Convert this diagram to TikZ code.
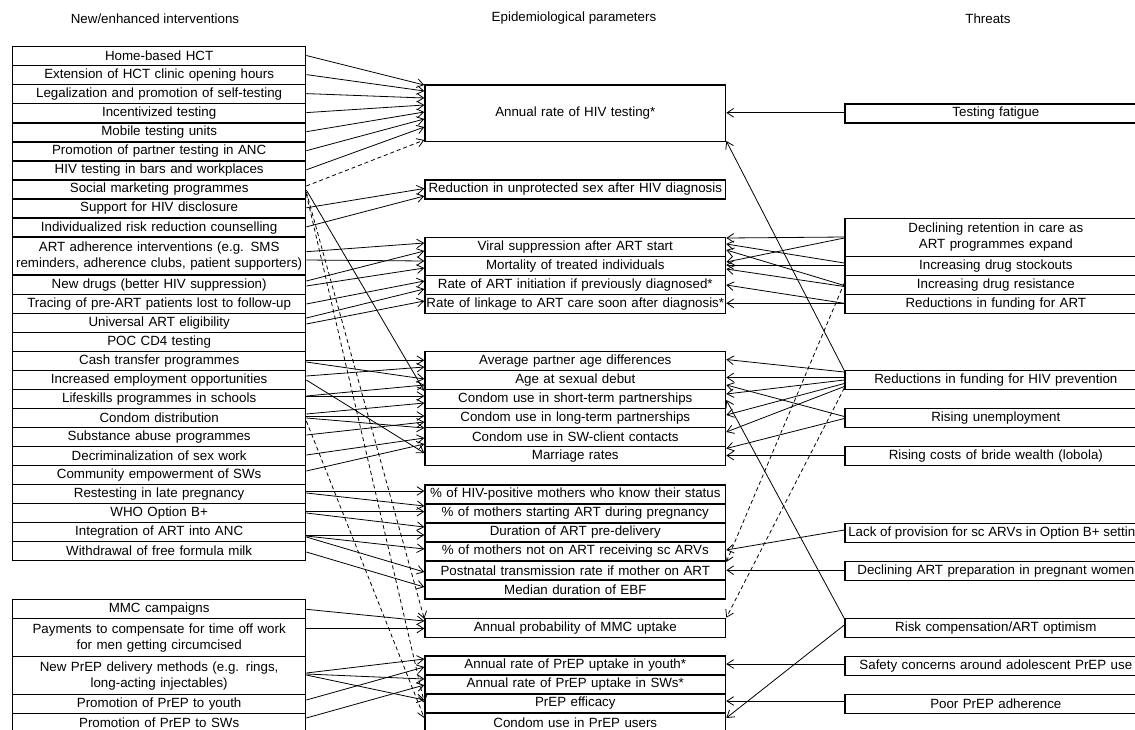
\documentclass[tikz,border=0pt]{standalone}
\usepackage{fontspec}
\setmainfont{Liberation Sans}
\usetikzlibrary{arrows.meta}
\newcommand\LtoM[5][]{\draw[con,#1] (#2.east |- 0,#3) -- (#4.west |- 0,#5);}
\newcommand\RtoM[5][]{\draw[con,#1] (#2.west |- 0,#3) -- (#4.east |- 0,#5);}
\begin{document}
\begin{tikzpicture}[x=0.75pt,y=-0.75pt,
  every node/.style={font={\fontsize{10}{12}\selectfont}, inner sep=0pt, align=center},
  bx/.style={draw, line width=1pt, anchor=north west, minimum height=14.28pt},
  lb/.style={bx, minimum width=219.75pt, text width=219.75pt},
  mb/.style={bx, minimum width=225.5pt, text width=225.5pt},
  rb/.style={bx, minimum width=226.3pt, text width=226.3pt},
  dbl/.style={minimum height=28.5pt},
  con/.style={line width=0.6pt, -{Straight Barb[length=5pt,width=6.5pt]}},
  dsh/.style={dash pattern=on 3pt off 2.2pt}]
\useasboundingbox (0,0) rectangle (1135,729);
\fill[white] (0,0) rectangle (1135,729);
\clip (0,0) rectangle (1135,729);

% headers
\node (h1) at (155,18.5) {New/enhanced interventions};
\node (h2) at (574,18.5) {Epidemiological parameters};
\node (h3) at (988,18.5) {Threats};

% left column
\node[lb] (home) at (12,46.0) {Home-based HCT};
\node[lb] (ext) at (12,65.0) {Extension of HCT clinic opening hours};
\node[lb] (leg) at (12,84.1) {Legalization and promotion of self-testing};
\node[lb] (inc) at (12,103.1) {Incentivized testing};
\node[lb] (mob) at (12,122.2) {Mobile testing units};
\node[lb] (prom) at (12,141.2) {Promotion of partner testing in ANC};
\node[lb] (bars) at (12,160.2) {HIV testing in bars and workplaces};
\node[lb] (soc) at (12,179.3) {Social marketing programmes};
\node[lb] (sup) at (12,198.3) {Support for HIV disclosure};
\node[lb] (ind) at (12,217.4) {Individualized risk reduction counselling};
\node[lb,dbl] (adh) at (12,236.4) {ART adherence interventions (e.g. SMS\\reminders, adherence clubs, patient supporters)};
\node[lb] (newdr) at (12,274.5) {New drugs (better HIV suppression)};
\node[lb] (trac) at (12,293.5) {Tracing of pre-ART patients lost to follow-up};
\node[lb] (univ) at (12,312.6) {Universal ART eligibility};
\node[lb] (poc) at (12,331.6) {POC CD4 testing};
\node[lb] (cash) at (12,350.6) {Cash transfer programmes};
\node[lb] (incr) at (12,369.7) {Increased employment opportunities};
\node[lb] (life) at (12,388.7) {Lifeskills programmes in schools};
\node[lb] (cond) at (12,407.8) {Condom distribution};
\node[lb] (subst) at (12,426.8) {Substance abuse programmes};
\node[lb] (decr) at (12,445.8) {Decriminalization of sex work};
\node[lb] (comm) at (12,464.9) {Community empowerment of SWs};
\node[lb] (rest) at (12,483.9) {Restesting in late pregnancy};
\node[lb] (who) at (12,503.0) {WHO Option B+};
\node[lb] (integ) at (12,522.0) {Integration of ART into ANC};
\node[lb] (withd) at (12,541.0) {Withdrawal of free formula milk};
\node[lb] (mmc) at (12,599) {MMC campaigns};
\node[lb,dbl] (pay) at (12,618) {Payments to compensate for time off work\\for men getting circumcised};
\node[lb,dbl] (nprep) at (12,656) {New PrEP delivery methods (e.g. rings,\\long-acting injectables)};
\node[lb] (promy) at (12,694) {Promotion of PrEP to youth};
\node[lb] (promsw) at (12,713) {Promotion of PrEP to SWs};

% middle column
\node[mb, minimum height=42.5pt] (hivt) at (424.3,84.3) {Annual rate of HIV testing*};
\node[mb] (unprot) at (424.3,179.3) {Reduction in unprotected sex after HIV diagnosis};
\node[mb] (viral) at (424.3,236.7) {Viral suppression after ART start};
\node[mb] (mort) at (424.3,255.7) {Mortality of treated individuals};
\node[mb] (init) at (424.3,274.7) {Rate of ART initiation if previously diagnosed*};
\node[mb] (link) at (424.3,293.7) {Rate of linkage to ART care soon after diagnosis*};
\node[mb] (avg) at (424.3,351) {Average partner age differences};
\node[mb] (age) at (424.3,370) {Age at sexual debut};
\node[mb] (cshort) at (424.3,389) {Condom use in short-term partnerships};
\node[mb] (clong) at (424.3,408) {Condom use in long-term partnerships};
\node[mb] (csw) at (424.3,427) {Condom use in SW-client contacts};
\node[mb] (marr) at (424.3,446) {Marriage rates};
\node[mb] (know) at (424.3,484.3) {\% of HIV-positive mothers who know their status};
\node[mb] (mstart) at (424.3,503.3) {\% of mothers starting ART during pregnancy};
\node[mb] (dur) at (424.3,522.3) {Duration of ART pre-delivery};
\node[mb] (notart) at (424.3,541.3) {\% of mothers not on ART receiving sc ARVs};
\node[mb] (post) at (424.3,560.3) {Postnatal transmission rate if mother on ART};
\node[mb] (ebf) at (424.3,579.3) {Median duration of EBF};
\node[mb] (mmcu) at (424.3,617.7) {Annual probability of MMC uptake};
\node[mb] (pyouth) at (424.3,655.3) {Annual rate of PrEP uptake in youth*};
\node[mb] (psw) at (424.3,674.3) {Annual rate of PrEP uptake in SWs*};
\node[mb] (peff) at (424.3,693.3) {PrEP efficacy};
\node[mb] (pcond) at (424.3,712.3) {Condom use in PrEP users};

% right column
\node[rb] (fatigue) at (844.3,103.3) {Testing fatigue};
\node[rb,dbl] (retent) at (844.3,217.7) {Declining retention in care as\\ART programmes expand};
\node[rb] (stock) at (844.3,255.7) {Increasing drug stockouts};
\node[rb] (resist) at (844.3,274.7) {Increasing drug resistance};
\node[rb] (fundart) at (844.3,293.7) {Reductions in funding for ART};
\node[rb] (fundprev) at (844.3,370) {Reductions in funding for HIV prevention};
\node[rb] (unemp) at (844.3,408) {Rising unemployment};
\node[rb] (bride) at (844.3,446) {Rising costs of bride wealth (lobola)};
\node[bx, inner xsep=2.5pt, minimum width=226.3pt] (lack) at (844.3,522.7) {Lack of provision for sc ARVs in Option B+ settings};
\node[rb] (prep) at (844.3,560.7) {Declining ART preparation in pregnant women};
\node[rb] (riskc) at (844.3,617.7) {Risk compensation/ART optimism};
\node[rb] (safety) at (844.3,655.7) {Safety concerns around adolescent PrEP use};
\node[rb] (adher) at (844.3,694) {Poor PrEP adherence};

% left -> middle: testing
\LtoM{home}{55.5}{hivt}{85}
\LtoM{ext}{74.6}{hivt}{91}
\LtoM{leg}{93.6}{hivt}{98}
\LtoM{inc}{112.6}{hivt}{105}
\LtoM{mob}{131.7}{hivt}{112}
\LtoM{prom}{150.7}{hivt}{119}
\LtoM{bars}{169.8}{hivt}{127}
\LtoM[dsh]{soc}{186}{hivt}{140}
% unprotected sex
\LtoM{sup}{207.8}{unprot}{188.5}
\LtoM{ind}{226.9}{unprot}{196}
% ART
\LtoM{adh}{251.7}{viral}{243}
\LtoM{adh}{260}{mort}{261}
\LtoM{newdr}{281}{viral}{251}
\LtoM{newdr}{286}{mort}{268}
\LtoM{trac}{304}{init}{281}
\LtoM{univ}{318}{init}{289}
\LtoM{univ}{324}{link}{301}
% behaviour
\LtoM{cash}{360.2}{avg}{360.2}
\LtoM{cash}{362}{age}{379}
\LtoM{incr}{376}{avg}{367}
\LtoM{incr}{380}{marr}{453}
\LtoM{soc}{190}{cshort}{391}
\LtoM{life}{396}{age}{385}
\LtoM{life}{396}{cshort}{396}
\LtoM{cond}{414}{cshort}{403}
\LtoM{cond}{416}{clong}{416}
\LtoM{cond}{418}{csw}{428}
\LtoM{subst}{435}{clong}{422}
\LtoM{decr}{455}{csw}{438}
\LtoM{comm}{471}{csw}{444}
% PMTCT
\LtoM{rest}{491}{know}{491}
\LtoM{rest}{493}{mstart}{506}
\LtoM{who}{511.7}{mstart}{511.7}
\LtoM{who}{513}{dur}{527}
\LtoM{integ}{535}{dur}{535}
\LtoM{integ}{536}{notart}{549}
\LtoM{integ}{537}{post}{572}
\LtoM{withd}{552}{ebf}{587}
% MMC
\LtoM{mmc}{609.3}{mmcu}{621}
\LtoM{pay}{628.5}{mmcu}{628.5}
\LtoM[dsh]{soc}{192}{mmcu}{619}
% PrEP
\LtoM{nprep}{673}{pyouth}{659}
\LtoM{nprep}{674}{psw}{679}
\LtoM{nprep}{675}{peff}{700}
\LtoM{promy}{700}{pyouth}{667}
\LtoM{promsw}{718}{psw}{685}
\LtoM[dsh]{cond}{421}{pcond}{718}
\LtoM[dsh]{soc}{194}{peff}{703}

% right -> middle
\RtoM{fatigue}{112.8}{hivt}{112.8}
\RtoM{fundprev}{370.5}{hivt}{141}
\RtoM{retent}{237}{viral}{238}
\RtoM{retent}{238}{mort}{262}
\RtoM{stock}{263}{viral}{244}
\RtoM{stock}{265}{mort}{265}
\RtoM{resist}{285.5}{viral}{250}
\RtoM{resist}{286.5}{mort}{269}
\RtoM{fundart}{303.3}{init}{285}
\RtoM{fundart}{303.3}{link}{303.3}
\RtoM{fundprev}{372}{avg}{359.5}
\RtoM{fundprev}{377.5}{age}{377.5}
\RtoM{fundprev}{380}{cshort}{394}
\RtoM{fundprev}{383.5}{clong}{415}
\RtoM{fundprev}{386.5}{csw}{432}
\RtoM{unemp}{416.5}{age}{385}
\RtoM{unemp}{418.5}{marr}{448.5}
\RtoM{bride}{455.5}{marr}{455.5}
\RtoM{riskc}{618.5}{cshort}{400}
\RtoM[dsh]{resist}{283}{post}{562}
\RtoM[dsh]{fundprev}{388}{mmcu}{617.7}
\RtoM{lack}{530}{notart}{550}
\RtoM{prep}{570.2}{post}{570.2}
\RtoM{safety}{664}{pyouth}{664}
\RtoM{adher}{701}{peff}{701}
\RtoM{riskc}{625}{pcond}{718}
\end{tikzpicture}
\end{document}
